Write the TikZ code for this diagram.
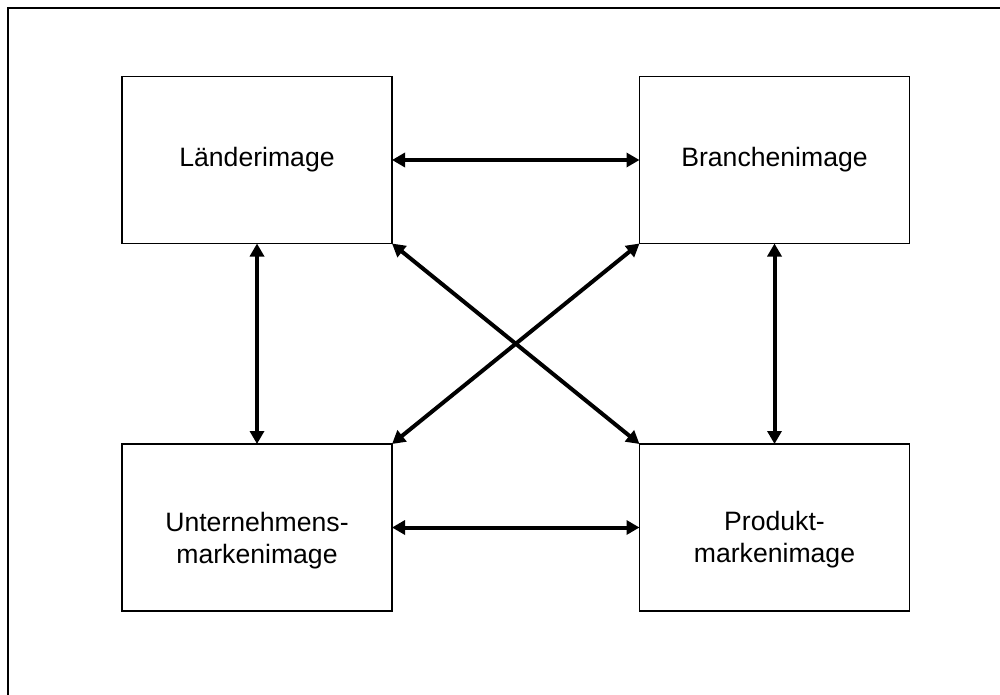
\documentclass[tikz,border=0pt]{standalone}
\usepackage{fontspec}
\setmainfont{Liberation Sans}
\usetikzlibrary{arrows.meta}
\begin{document}
\begin{tikzpicture}[x=0.5pt,y=-0.5pt,
  imagebox/.style={draw, line width=0.6pt, rectangle, inner sep=0pt, outer sep=0pt,
    minimum width=135pt, minimum height=83.5pt},
  boxtext/.style={align=center, inner sep=0pt,
    font=\fontsize{13.3pt}{16pt}\selectfont},
  link/.style={line width=2pt, {Triangle[length=6.5pt,width=7pt]}-{Triangle[length=6.5pt,width=7pt]}}]
  \useasboundingbox (0,0) rectangle (1000,695);
  \clip (0,0) rectangle (1000,695);
  % outer frame
  \draw[line width=1pt] (8,8) rectangle (1020,715);
  % the four image types
  \node[imagebox] (L) at (257,160) {};
  \node[imagebox] (B) at (774.5,160) {};
  \node[imagebox] (U) at (257,527.5) {};
  \node[imagebox] (P) at (774.5,527.5) {};
  \node[boxtext] (Lt) at (L.center) {Länderimage};
  \node[boxtext] (Bt) at (B.center) {Branchenimage};
  \node[boxtext] (Ut) at ([yshift=-6.5pt]U.center) {Unternehmens-\\markenimage};
  \node[boxtext] (Pt) at ([yshift=-6pt]P.center) {Produkt-\\markenimage};
  % mutual influences
  \draw[link] (L.east) -- (B.west);
  \draw[link] (U.east) -- (P.west);
  \draw[link] (L.south) -- (U.north);
  \draw[link] (B.south) -- (P.north);
  \draw[link] (L.south east) -- (P.north west);
  \draw[link] (B.south west) -- (U.north east);
\end{tikzpicture}
\end{document}
